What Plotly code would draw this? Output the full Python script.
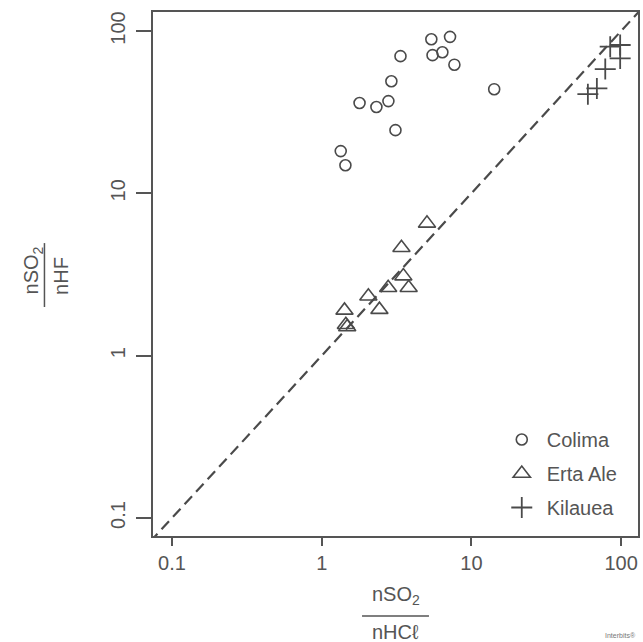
import plotly.graph_objects as go

# Colima (circles)
colima_x = [5.4, 7.2, 5.5, 6.4, 7.7, 3.36, 2.92, 14.2, 1.79, 2.32, 2.79, 3.11, 1.34, 1.44]
colima_y = [89, 92, 71, 74, 62, 70, 49, 43.8, 36, 34, 37, 24.5, 18.2, 14.9]

# Erta Ale (triangles)
erta_x = [5.05, 3.41, 3.51, 3.81, 2.78, 2.05, 2.43, 1.42, 1.48, 1.45]
erta_y = [6.53, 4.62, 3.09, 2.62, 2.62, 2.32, 1.92, 1.90, 1.50, 1.55]

# Kilauea (crosses)
kil_x = [84.6, 98.6, 98.6, 78.4, 68.9, 60.0]
kil_y = [80, 82, 67.8, 58.3, 44.3, 40.8]

# 1:1 line
line_vals = [0.05, 200]

tick_vals = [0.1, 1, 10, 100]
tick_text = ["0.1", "1", "10", "100"]

C = "#4a4a4a"
FONT = "Liberation Sans, Arial, sans-serif"

fig = go.Figure()
fig.add_trace(go.Scatter(x=line_vals, y=line_vals, mode="lines",
                         line=dict(color=C, width=2.2, dash="11px,6px"),
                         showlegend=False, hoverinfo="skip"))
fig.add_trace(go.Scatter(x=colima_x, y=colima_y, mode="markers", name="Colima", legendgroup="a",
                         marker=dict(symbol="circle-open", size=11, color=C, line=dict(width=1.6, color=C))))
fig.add_trace(go.Scatter(x=erta_x, y=erta_y, mode="markers", name="Erta Ale", legendgroup="b",
                         marker=dict(symbol="triangle-up-open", size=15, color=C, line=dict(width=1.6, color=C))))
fig.add_trace(go.Scatter(x=kil_x, y=kil_y, mode="markers", name="Kilauea", legendgroup="c",
                         marker=dict(symbol="cross-thin-open", size=15, color=C, line=dict(width=1.8, color=C))))

axis_common = dict(type="log", showgrid=False, zeroline=False, showline=True, mirror=True,
                   linecolor="#555", linewidth=1.5, ticks="outside", tickcolor="#555", tickwidth=1.5,
                   tickvals=tick_vals, ticktext=tick_text,
                   tickfont=dict(family=FONT, size=20, color="#555"))

fig.update_xaxes(range=[-1.127, 2.113], ticklen=8, **axis_common)
fig.update_yaxes(range=[-1.111, 2.117], ticklen=15, tickangle=-90, ticklabelstandoff=3, **axis_common)

tf = dict(family=FONT, size=20, color="#555")
annotations = [
    dict(text="nSO<sub>2</sub>", x=0.5, y=-0.1145, xref="paper", yref="paper",
         showarrow=False, font=tf, xanchor="center", yanchor="middle"),
    dict(text="nHC\u2113", x=0.5, y=-0.184, xref="paper", yref="paper",
         showarrow=False, font=tf, xanchor="center", yanchor="middle"),
    dict(text="nSO<sub>2</sub>", x=-0.2485, y=0.5076, xref="paper", yref="paper",
         showarrow=False, font=tf, xanchor="center", yanchor="middle", textangle=-90),
    dict(text="nHF", x=-0.191, y=0.497, xref="paper", yref="paper",
         showarrow=False, font=tf, xanchor="center", yanchor="middle", textangle=-90),
    dict(text="Interbits\u00ae", x=1.0, y=-0.19, xref="paper", yref="paper",
         showarrow=False, font=dict(family=FONT, size=7, color="#777"), xanchor="right", yanchor="middle"),
]

shapes = [
    dict(type="line", xref="paper", yref="paper", x0=0.431, x1=0.569, y0=-0.1527, y1=-0.1527,
         line=dict(color="#555", width=1.5)),
    dict(type="line", xref="paper", yref="paper", x0=-0.2238, x1=-0.2238, y0=0.437, y1=0.559,
         line=dict(color="#555", width=1.5)),
]

fig.update_layout(
    width=643, height=642,
    margin=dict(l=153, r=3, t=12, b=106),
    plot_bgcolor="white", paper_bgcolor="white",
    annotations=annotations, shapes=shapes,
    legend=dict(x=0.7088, y=0.2214, xanchor="left", yanchor="top",
                font=dict(family=FONT, size=20, color="#555"),
                bgcolor="rgba(0,0,0,0)", tracegroupgap=5, itemsizing="trace",
                itemwidth=40, traceorder="grouped"),
    showlegend=True,
)

fig.write_html("out.html", config=dict(displayModeBar=False),
               post_script="document.body.style.margin='0';document.body.style.overflow='hidden';")
